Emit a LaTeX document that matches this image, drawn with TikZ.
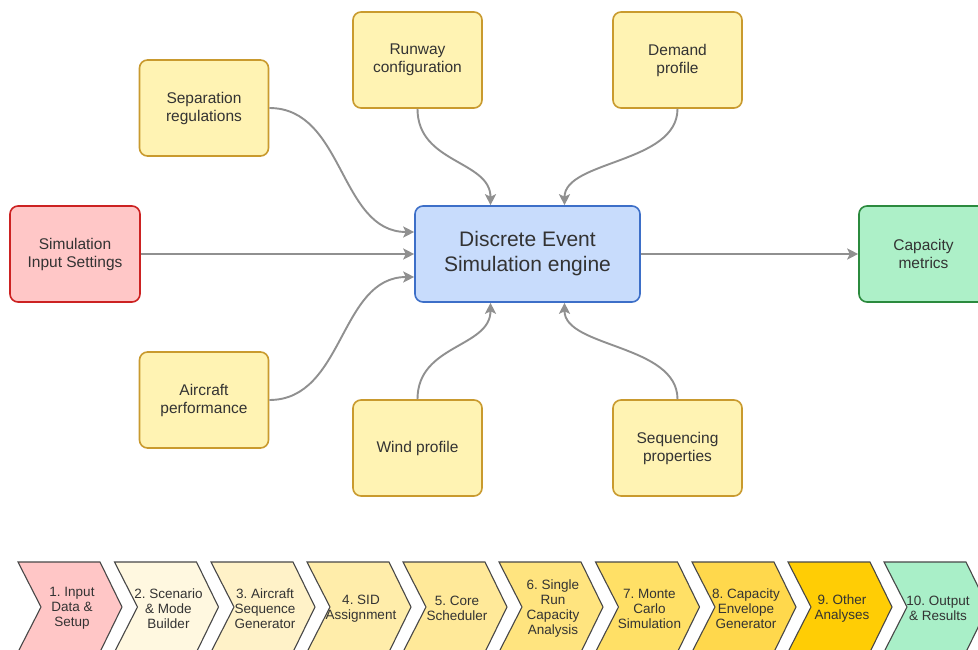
\documentclass[tikz,border=0pt]{standalone}
\usepackage{fontspec}
\setmainfont{Liberation Sans}
\usetikzlibrary{arrows.meta,calc}
\frenchspacing
\definecolor{txt}{HTML}{333333}
\definecolor{ylwfill}{HTML}{FFF3B3}
\definecolor{ylwdraw}{HTML}{C99A2E}
\definecolor{redfill}{HTML}{FFC7C7}
\definecolor{reddraw}{HTML}{CC2222}
\definecolor{bluefill}{HTML}{C8DCFC}
\definecolor{bluedraw}{HTML}{3D6FC8}
\definecolor{grnfill}{HTML}{ADF0C8}
\definecolor{grndraw}{HTML}{2B8A3E}
\definecolor{arrgray}{HTML}{909090}
\definecolor{cA}{HTML}{FFC6C6}
\definecolor{cB}{HTML}{FFF8E0}
\definecolor{cC}{HTML}{FFF2C8}
\definecolor{cD}{HTML}{FFEDAA}
\definecolor{cE}{HTML}{FFE999}
\definecolor{cF}{HTML}{FFE47F}
\definecolor{cG}{HTML}{FFE066}
\definecolor{cH}{HTML}{FFD84C}
\definecolor{cI}{HTML}{FFCD05}
\definecolor{cJ}{HTML}{A9EFC8}
\tikzset{
  box/.style={draw, line width=1.6pt, rounded corners=8pt, align=center, text=txt,
    minimum width=129pt, minimum height=96pt, inner sep=2pt,
    font=\fontsize{15.5}{18}\selectfont},
  ybox/.style={box, fill=ylwfill, draw=ylwdraw},
  conn/.style={draw=arrgray, line width=1.9pt, -{Stealth[length=11pt,width=11pt,inset=2.5pt]}},
  chev/.style={draw=txt!90, line width=1.1pt, line join=miter},
  chevtxt/.style={align=center, text=txt, inner sep=0pt, font=\fontsize{13.5}{15}\selectfont}
}
\begin{document}
\begin{tikzpicture}[x=1pt,y=-1pt]
\clip (0,0) rectangle (978,650);
\fill[white] (0,0) rectangle (978,650);

\node[box, fill=redfill, draw=reddraw, minimum width=130pt] (sim) at (75,254) {Simulation\\Input Settings};
\node[ybox] (sep) at (204,108) {Separation\\regulations};
\node[ybox] (rwy) at (417.5,60) {Runway\\configuration};
\node[ybox] (dem) at (677.5,60) {Demand\\profile};
\node[box, fill=bluefill, draw=bluedraw, minimum width=225pt,
  font=\fontsize{21}{25}\selectfont] (eng) at (527.5,254) {Discrete Event\\Simulation engine};
\node[box, fill=grnfill, draw=grndraw, minimum width=129pt] (cap) at (923.5,254) {Capacity\\metrics};
\node[ybox] (acp) at (204,400) {Aircraft\\performance};
\node[ybox] (wnd) at (417.5,448) {Wind profile};
\node[ybox] (seq) at (677.5,448) {Sequencing\\properties};

\draw[conn] (sim.east) -- (eng.west);
\draw[conn] (sep.east) .. controls +(75,0) and +(-75,0) .. ($(eng.west)+(0,-22)$);
\draw[conn] (acp.east) .. controls +(75,0) and +(-75,0) .. ($(eng.west)+(0,23)$);
\draw[conn] (rwy.south) .. controls +(0,55) and +(0,-45) .. ($(eng.north)+(-37,0)$);
\draw[conn] (dem.south) .. controls +(0,55) and +(0,-45) .. ($(eng.north)+(37,0)$);
\draw[conn] (wnd.north) .. controls +(0,-55) and +(0,45) .. ($(eng.south)+(-37,0)$);
\draw[conn] (seq.north) .. controls +(0,-55) and +(0,45) .. ($(eng.south)+(37,0)$);
\draw[conn] (eng.east) -- (cap.west);

\foreach \i/\xo/\col/\lab in {
  1/18/cA/{1. Input\\Data \&\\Setup},
  2/114.5/cB/{2. Scenario\\\& Mode\\Builder},
  3/211/cC/{3. Aircraft\\Sequence\\Generator},
  4/307/cD/{4. SID\\Assignment},
  5/403/cE/{5. Core\\Scheduler},
  6/499/cF/{6. Single\\Run\\Capacity\\Analysis},
  7/595.5/cG/{7. Monte\\Carlo\\Simulation},
  8/692/cH/{8. Capacity\\Envelope\\Generator},
  9/788/cI/{9. Other\\Analyses},
  10/884/cJ/{10. Output\\\& Results}}{
  \draw[chev, fill=\col] (\xo,562) -- ++(82,0) -- ++(22,45) -- ++(-22,45) -- ++(-82,0) -- ++(23,-45) -- cycle;
  \node[chevtxt] (ch\i) at (\xo+54,608.5) {\lab};
}
\end{tikzpicture}
\end{document}
